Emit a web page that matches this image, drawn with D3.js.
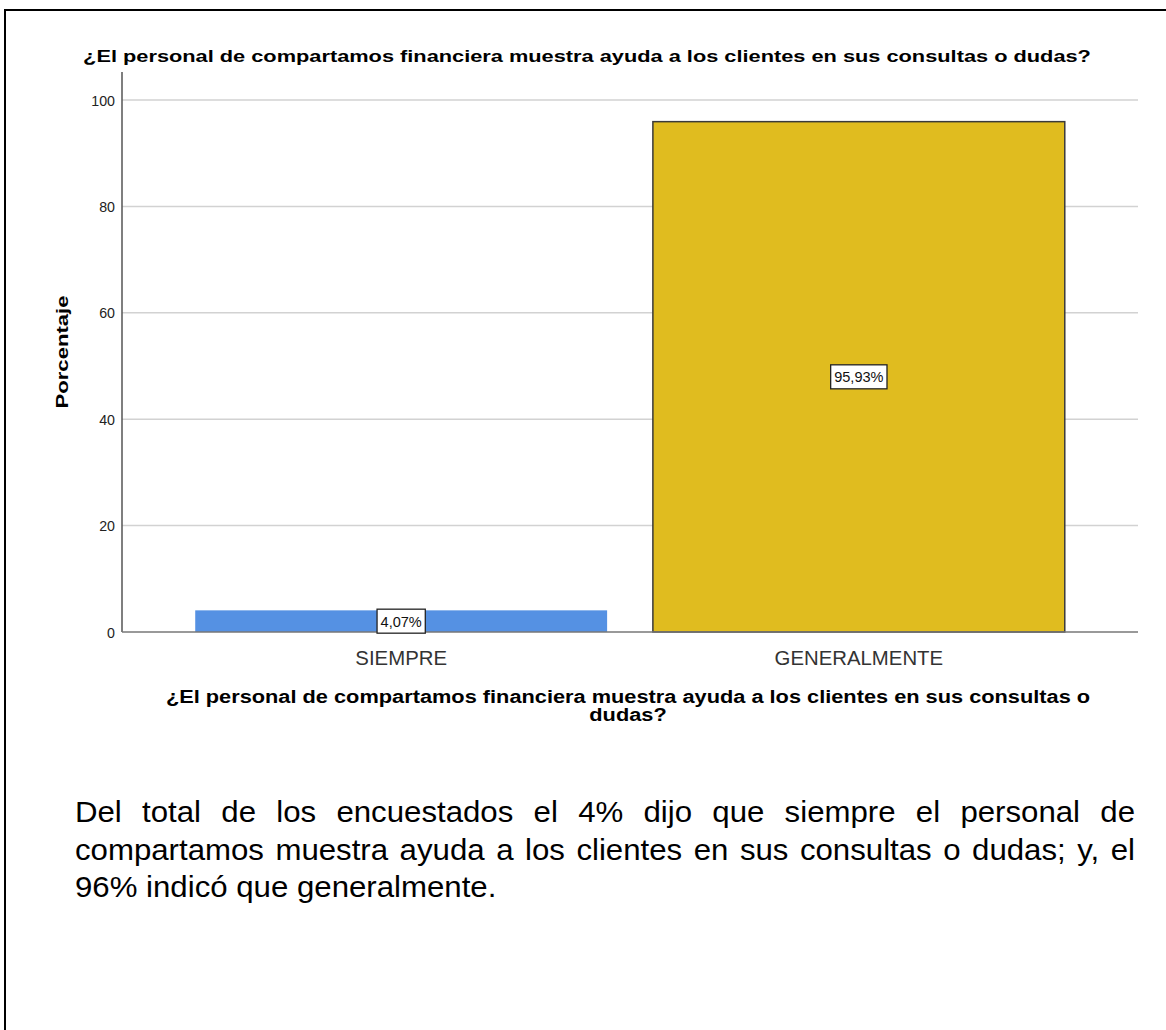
<!DOCTYPE html>
<html>
<head>
<meta charset="utf-8">
<script src="https://cdn.jsdelivr.net/npm/d3@7"></script>
<style>
  html, body { margin: 0; padding: 0; background: #fff; }
  svg { display: block; }
  text { font-family: "Liberation Sans", Arial, sans-serif; }
</style>
</head>
<body>
<svg id="chart" width="1166" height="1030"></svg>
<script>
// ---- data ----
const categories = ["SIEMPRE", "GENERALMENTE"];
const percentages = [4.07, 95.93];
const valueLabels = ["4,07%", "95,93%"];
const barColors = ["#5591e3", "#e0bc1f"];
const yTicks = [0, 20, 40, 60, 80, 100];
const chartTitle = "¿El personal de compartamos financiera muestra ayuda a los clientes en sus consultas o dudas?";
const xTitleLines = ["¿El personal de compartamos financiera muestra ayuda a los clientes en sus consultas o", "dudas?"];
const yTitle = "Porcentaje";
const paragraphLines = [
  "Del total de los encuestados el 4% dijo que siempre el personal de",
  "compartamos muestra ayuda a los clientes en sus consultas o dudas; y, el",
  "96% indicó que generalmente."
];

// ---- layout ----
const svg = d3.select("#chart");
const plot = { left: 122, right: 1138, top: 72, bottom: 632 };

const x = d3.scaleBand().domain(categories)
  .range([plot.left, plot.right]).paddingInner(0.1).paddingOuter(0.16);
const y = d3.scaleLinear().domain([0, 100]).range([plot.bottom, 100]);

// outer frame (top and left edges visible)
svg.append("path")
  .attr("d", `M5,1030 L5,10 L1166,10`)
  .attr("fill", "none").attr("stroke", "#000").attr("stroke-width", 2);

function stretchedText(g, tx, ty, str, opts) {
  return g.append("text")
    .attr("transform", `translate(${tx},${ty}) scale(${opts.sx},1)`)
    .attr("text-anchor", opts.anchor || "middle")
    .attr("font-size", opts.size)
    .attr("font-weight", opts.weight || "normal")
    .attr("fill", opts.fill || "#000")
    .text(str);
}

// gridlines
svg.append("g").selectAll("line").data(yTicks.filter(d => d > 0)).join("line")
  .attr("x1", plot.left).attr("x2", plot.right)
  .attr("y1", d => y(d)).attr("y2", d => y(d))
  .attr("stroke", "#d2d2d2").attr("stroke-width", 1.5);

// y tick labels
const yg = svg.append("g");
yTicks.forEach(d => stretchedText(yg, 115, y(d) + 5.5, d, { size: 14.5, anchor: "end", sx: 0.98, fill: "#222" }));

// bars
svg.append("g").selectAll("rect").data(categories).join("rect")
  .attr("x", d => x(d)).attr("width", x.bandwidth())
  .attr("y", (d, i) => y(percentages[i]))
  .attr("height", (d, i) => y(0) - y(percentages[i]))
  .attr("fill", (d, i) => barColors[i])
  .attr("stroke", (d, i) => i === 1 ? "#3a3a3a" : "none")
  .attr("stroke-width", 1.5);

// axes lines
svg.append("line").attr("x1", plot.left).attr("x2", plot.left)
  .attr("y1", plot.top).attr("y2", plot.bottom)
  .attr("stroke", "#555").attr("stroke-width", 1.5);
svg.append("line").attr("x1", plot.left).attr("x2", plot.right)
  .attr("y1", plot.bottom).attr("y2", plot.bottom)
  .attr("stroke", "#777").attr("stroke-width", 1.5);

// value labels
const lg = svg.append("g");
categories.forEach((c, i) => {
  const cx = x(c) + x.bandwidth() / 2;
  const cy = (y(percentages[i]) + y(0)) / 2;
  const t = stretchedText(lg, cx, cy + 5.5, valueLabels[i], { size: 15, sx: 0.97, fill: "#111" });
  const w = t.node().getComputedTextLength() * 0.97 + 7, h = 24;
  lg.insert("rect", "text").attr("x", cx - w / 2).attr("y", cy - h / 2)
    .attr("width", w).attr("height", h)
    .attr("fill", "#fff").attr("stroke", "#222").attr("stroke-width", 1.3);
});

// x tick labels
const xg = svg.append("g");
categories.forEach(c => stretchedText(xg, x(c) + x.bandwidth() / 2, 665, c, { size: 21, sx: 0.97, fill: "#333" }));

// titles
stretchedText(svg, 587, 62, chartTitle, { size: 16.5, weight: "bold", sx: 1.32 });
xTitleLines.forEach((l, i) => stretchedText(svg, 628, 703 + i * 18, l, { size: 18, weight: "bold", sx: 1.21 }));
svg.append("text")
  .attr("transform", `translate(68,352) rotate(-90) scale(1.3,1)`)
  .attr("text-anchor", "middle").attr("font-size", 17).attr("font-weight", "bold")
  .text(yTitle);

// paragraph (first two lines justified by word spacing)
const PSX = 1.04;
const pLeft = 75, pWidth = 1060;
paragraphLines.forEach((line, i) => {
  const lineG = svg.append("g")
    .attr("transform", `translate(${pLeft},${822 + i * 37.5}) scale(${PSX},1)`)
    .attr("font-size", 30).attr("fill", "#000");
  if (i < paragraphLines.length - 1) {
    const words = line.split(" ");
    const nodes = words.map(w => lineG.append("text").attr("y", 0).text(w));
    const widths = nodes.map(n => n.node().getComputedTextLength());
    const gap = (pWidth / PSX - d3.sum(widths)) / (words.length - 1);
    let cx = 0;
    nodes.forEach((n, k) => { n.attr("x", cx); cx += widths[k] + gap; });
  } else {
    lineG.append("text").attr("x", 0).attr("y", 0).text(line);
  }
});
</script>
</body>
</html>
